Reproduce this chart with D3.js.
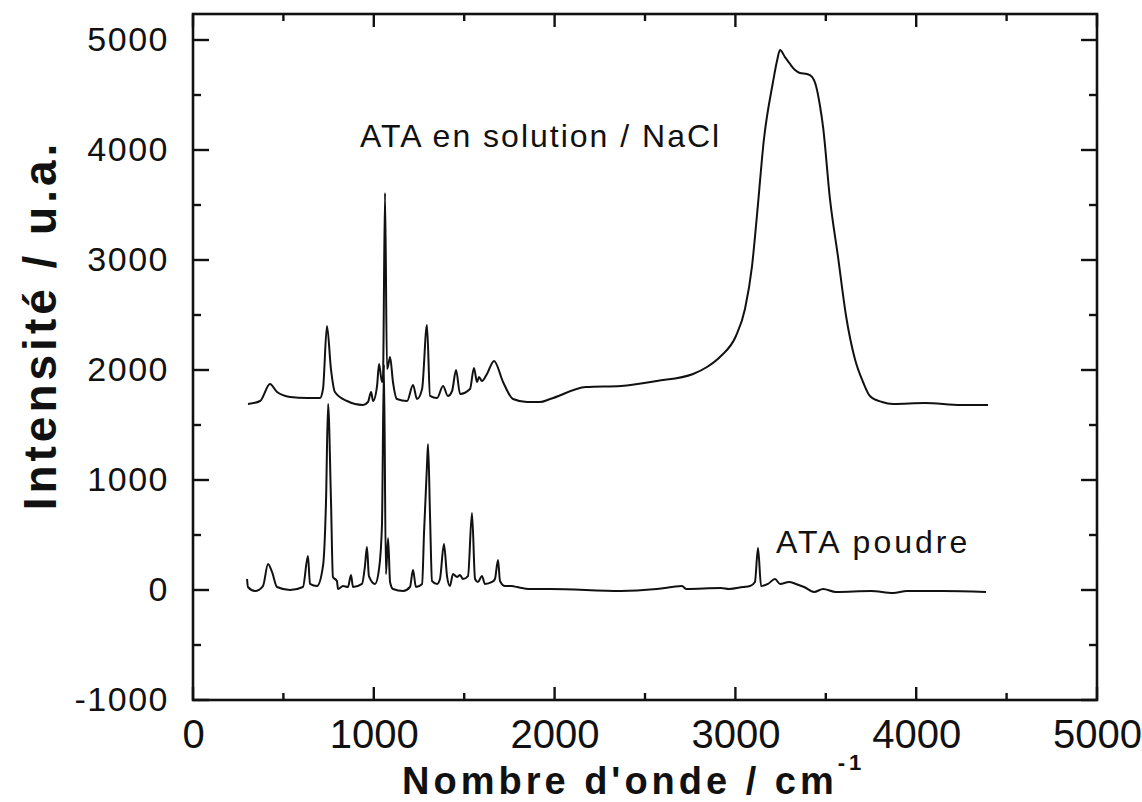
<!DOCTYPE html>
<html>
<head>
<meta charset="utf-8">
<script src="https://cdn.jsdelivr.net/npm/d3@7"></script>
<style>
  body { margin: 0; background: #fff; }
  svg text { font-family: "Liberation Sans", Arial, sans-serif; fill: #111; }
</style>
</head>
<body>
<div id="chart"></div>
<script>
// spectre ATA en solution / NaCl
var solutionX = [304,371,426,465,537,631,702,719,741,763,785,852,940,968,985,996,1018,1029,1045,1051,
  1062,1073,1079,1090,1106,1128,1184,1217,1239,1267,1294,1311,1350,1383,1410,1433,1455,1477,1532,1554,
  1571,1582,1598,1626,1665,1715,1770,1847,1919,1975,2174,2367,2566,2766,2843,2920,3003,3053,3092,3119,
  3158,3208,3230,3247,3274,3302,3330,3357,3396,3424,3446,3468,3485,3523,3567,3612,3661,3706,3744,3811,
  3872,4049,4248,4397];
var solutionY = [1691,1718,1873,1800,1755,1745,1745,1827,2400,2009,1800,1718,1682,1709,1800,1718,1855,2055,1891,1945,
  3609,2009,2036,2118,1891,1736,1718,1864,1736,1827,2409,1764,1745,1855,1764,1809,2000,1782,1827,2018,
  1891,1936,1900,1964,2082,1891,1736,1709,1709,1736,1845,1855,1900,1964,2027,2127,2309,2555,2945,3400,
  4100,4618,4809,4909,4845,4782,4727,4700,4691,4664,4582,4400,4209,3555,3036,2491,2100,1891,1764,1709,
  1691,1700,1682,1682];

// spectre ATA poudre
var poudreX = [299,304,343,387,415,437,465,537,608,636,647,686,719,736,747,763,774,796,802,830,
  857,874,885,935,951,962,973,1007,1029,1045,1056,1067,1079,1090,1106,1162,1200,1217,1233,1267,
  1278,1294,1300,1311,1322,1350,1366,1388,1405,1421,1438,1460,1477,1493,1521,1543,1560,1576,1598,1615,
  1654,1670,1687,1698,1726,1764,1792,1864,1975,2367,2566,2705,2727,2920,2965,3042,3081,3108,3125,3142,
  3180,3219,3247,3296,3335,3380,3435,3485,3556,3750,3872,3949,4148,4386];
var poudreY = [100,27,-9,36,236,164,27,0,27,309,55,36,218,827,1691,827,118,82,9,36,
  27,136,27,55,218,391,127,55,191,582,2050,145,470,73,9,-9,27,182,27,55,
  527,1127,1327,673,82,55,100,418,127,36,145,118,136,100,127,700,100,73,127,55,
  73,100,273,82,36,36,27,9,9,-9,9,36,9,18,9,27,36,73,382,36,
  55,100,55,73,55,27,-18,9,-18,-9,-27,-9,-9,-18];

var xTicks = [0,1000,2000,3000,4000,5000];
var xMinor = [500,1500,2500,3500,4500];
var yTicks = [-1000,0,1000,2000,3000,4000,5000];
var yMinor = [-500,500,1500,2500,3500,4500];

var width = 1142, height = 802;
var mLeft = 193, mRight = 1097, mTop = 14, mBottom = 700;

var x = d3.scaleLinear().domain([0, 5000]).range([mLeft, mRight]);
var y = d3.scaleLinear().domain([-1000, 5000]).range([mBottom, 40]);

var svg = d3.select("#chart").append("svg")
  .attr("width", width)
  .attr("height", height);

svg.append("rect")
  .attr("x", mLeft).attr("y", mTop)
  .attr("width", mRight - mLeft).attr("height", mBottom - mTop)
  .attr("fill", "none").attr("stroke", "#111").attr("stroke-width", 2.6);

// inward ticks on all four sides
var ticks = svg.append("g").attr("stroke", "#111").attr("stroke-width", 2.4);
function xTickMarks(vals, len) {
  ticks.selectAll(null).data(vals).enter().append("line")
    .attr("x1", function(d) { return x(d); }).attr("x2", function(d) { return x(d); })
    .attr("y1", mBottom).attr("y2", mBottom - len);
  ticks.selectAll(null).data(vals).enter().append("line")
    .attr("x1", function(d) { return x(d); }).attr("x2", function(d) { return x(d); })
    .attr("y1", mTop).attr("y2", mTop + len);
}
function yTickMarks(vals, len) {
  ticks.selectAll(null).data(vals).enter().append("line")
    .attr("y1", function(d) { return y(d); }).attr("y2", function(d) { return y(d); })
    .attr("x1", mLeft).attr("x2", mLeft + len);
  ticks.selectAll(null).data(vals).enter().append("line")
    .attr("y1", function(d) { return y(d); }).attr("y2", function(d) { return y(d); })
    .attr("x1", mRight).attr("x2", mRight - len);
}
xTickMarks(xTicks, 13);
xTickMarks(xMinor, 7);
yTickMarks(yTicks, 16);
yTickMarks(yMinor, 8);

// tick labels through d3 axes (tick lines hidden)
function plain(d) { return String(d); }
var xAxis = svg.append("g").attr("transform", "translate(0," + mBottom + ")")
  .call(d3.axisBottom(x).tickValues(xTicks).tickSize(0).tickPadding(20).tickFormat(plain));
var yAxis = svg.append("g").attr("transform", "translate(" + mLeft + ",0)")
  .call(d3.axisLeft(y).tickValues(yTicks).tickSize(0).tickPadding(24).tickFormat(plain));
[xAxis, yAxis].forEach(function(g) {
  g.select(".domain").remove();
  g.selectAll(".tick line").remove();
  g.selectAll("text").attr("font-family", "Liberation Sans, Arial, sans-serif").attr("fill", "#111");
});
xAxis.selectAll("text").attr("font-size", 40);
yAxis.selectAll("text").attr("font-size", 34).attr("letter-spacing", 1.5);

var line = d3.line()
  .curve(d3.curveMonotoneX)
  .x(function(d) { return x(d[0]); })
  .y(function(d) { return y(d[1]); });

var series = [
  d3.zip(solutionX, solutionY),
  d3.zip(poudreX, poudreY)
];

svg.selectAll(".spectre")
  .data(series)
  .enter().append("path")
  .attr("class", "spectre")
  .attr("d", line)
  .attr("fill", "none")
  .attr("stroke", "#111")
  .attr("stroke-width", 2)
  .attr("stroke-linejoin", "round");

// annotations
svg.append("text")
  .attr("x", 360).attr("y", 147)
  .attr("font-size", 32).attr("letter-spacing", 2)
  .text("ATA en solution / NaCl");
svg.append("text")
  .attr("x", 776).attr("y", 553)
  .attr("font-size", 32).attr("letter-spacing", 3)
  .text("ATA poudre");

// axis titles
var xt = svg.append("text")
  .attr("x", 402).attr("y", 794)
  .attr("font-size", 38).attr("font-weight", "bold").attr("letter-spacing", 4);
xt.append("tspan").text("Nombre d'onde / cm");
xt.append("tspan").attr("font-size", 22).attr("dy", -24).text("-1");

svg.append("text")
  .attr("transform", "translate(56,325) rotate(-90)")
  .attr("text-anchor", "middle")
  .attr("font-size", 46).attr("font-weight", "bold").attr("letter-spacing", 4)
  .text("Intensité / u.a.");
</script>
</body>
</html>
